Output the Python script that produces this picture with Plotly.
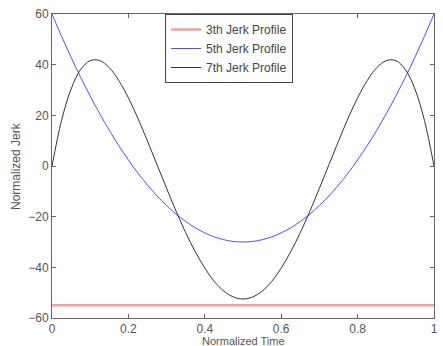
import plotly.graph_objects as go

t = [0, 0.025, 0.05, 0.075, 0.1, 0.125, 0.15, 0.175, 0.2, 0.225, 0.25, 0.275, 0.3, 0.325, 0.35, 0.375, 0.4, 0.425, 0.45, 0.475, 0.5,
     0.525, 0.55, 0.575, 0.6, 0.625, 0.65, 0.675, 0.7, 0.725, 0.75, 0.775, 0.8, 0.825, 0.85, 0.875, 0.9, 0.925, 0.95, 0.975, 1.0]
half5 = [60, 51.2, 42.9, 35.0, 27.6, 20.6, 14.1, 8.0, 2.4, -2.8, -7.5, -11.8, -15.6, -19.0, -21.9, -24.4, -26.4, -28.0, -29.1, -29.8]
half7 = [0, 18.0, 30.4, 38.1, 41.6, 41.6, 38.8, 33.7, 26.9, 18.8, 9.8, 0.5, -8.8, -17.9, -26.3, -33.8, -40.3, -45.6, -49.4, -51.7]
jerk5 = half5 + [-30.0] + half5[::-1]
jerk7 = half7 + [-52.5] + half7[::-1]
jerk3 = [-55.0] * len(t)

FONT = "Liberation Sans, Arial"
fig = go.Figure()
fig.add_trace(go.Scatter(x=t, y=jerk3, mode="lines", name="3th Jerk Profile",
                         line=dict(color="#f4a0a0", width=2.5)))
fig.add_trace(go.Scatter(x=t, y=jerk5, mode="lines", name="5th Jerk Profile",
                         line=dict(color="#5050f0", width=1, shape="spline")))
fig.add_trace(go.Scatter(x=t, y=jerk7, mode="lines", name="7th Jerk Profile",
                         line=dict(color="#333333", width=1, shape="spline")))

axis_common = dict(showgrid=False, zeroline=False, showline=True, mirror="ticks",
                   linecolor="#666666", linewidth=1, ticks="inside", ticklen=4,
                   tickcolor="#666666", automargin=False,
                   tickfont=dict(family=FONT, size=12, color="#555555"))
fig.update_xaxes(range=[0, 1], tickvals=[0, 0.2, 0.4, 0.6, 0.8, 1], ticktext=["0", "0.2", "0.4", "0.6", "0.8", "1"],
                 **axis_common)
fig.update_yaxes(range=[-60, 60], tickvals=[-60, -40, -20, 0, 20, 40, 60],
                 **axis_common)
fig.add_annotation(text="Normalized Time", xref="paper", yref="paper", x=0.5, y=0,
                   xanchor="center", yanchor="top", yshift=-15, showarrow=False,
                   font=dict(family=FONT, size=11, color="#555555"))
fig.add_annotation(text="Normalized Jerk", xref="paper", yref="paper", x=0, y=0.5,
                   xanchor="center", yanchor="middle", xshift=-36, textangle=-90, showarrow=False,
                   font=dict(family=FONT, size=12, color="#555555"))
fig.update_layout(width=443, height=346, margin=dict(l=52, r=9, t=14, b=28),
                  plot_bgcolor="white", paper_bgcolor="white",
                  legend=dict(x=0.296, y=1.0, xanchor="left", yanchor="top", bgcolor="white",
                              bordercolor="#444444", borderwidth=1,
                              font=dict(family=FONT, size=12, color="#444444"),
                              tracegroupgap=0))
fig.write_html("out.html")
